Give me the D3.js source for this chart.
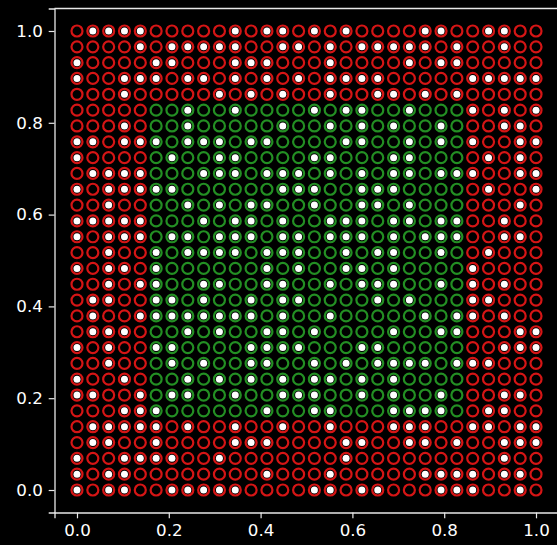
<!DOCTYPE html>
<html>
<head>
<meta charset="utf-8">
<script src="https://cdn.jsdelivr.net/npm/d3@7"></script>
<style>
  html, body { margin: 0; padding: 0; background: #000; }
  #container { width: 557px; height: 545px; overflow: hidden; }
</style>
</head>
<body>
<div id="container"></div>
<script>
// grid coordinates (same on both axes)
var gridValues = [0, 0.0345, 0.0690, 0.1034, 0.1379, 0.1724, 0.2069, 0.2414, 0.2759, 0.3103,
  0.3448, 0.3793, 0.4138, 0.4483, 0.4828, 0.5172, 0.5517, 0.5862, 0.6207, 0.6552,
  0.6897, 0.7241, 0.7586, 0.7931, 0.8276, 0.8621, 0.8966, 0.9310, 0.9655, 1];

// points inside this square are class "inner" (green), the rest "outer" (red)
var innerSquare = [0.1667, 0.8333];
var categories = ["outer", "inner"];

// marked points (white dot), one string per row, top row (y = 1) first, left to right
var markedRows = [
  "011110000010110101000011001100",
  "000010111110011010111110100100",
  "100001100011100010000101100000",
  "100111011010101011110000011111",
  "000100000101010010011010100000",
  "000000010010000101100100010101",
  "000100010000010010101001000110",
  "110111011101100001100101010011",
  "100000100110000110001100001010",
  "011110001110111010101101110011",
  "101111100000011100111000001001",
  "001000010101100100110100000010",
  "111110001011010011101101100100",
  "101110110111011011101011100110",
  "001001011110111001011001001000",
  "101101000000101001101000010000",
  "001011001100110010111001010100",
  "011001101001011000010100011000",
  "010011111111010010000010110100",
  "011100010100110100001001100011",
  "101001100001111000110000000111",
  "001000101001100101011110111000",
  "100100010101010110101000000000",
  "110010110010011100101001000110",
  "000111000000100110001111001100",
  "011111010010010010001110011011",
  "011001000011100001100110100111",
  "100111100100000001000000000100",
  "101100000000100010000011110110",
  "101100111110000110110001110010"
];

var xTicks = [0, 0.2, 0.4, 0.6, 0.8, 1.0];
var yTicks = [0, 0.2, 0.4, 0.6, 0.8, 1.0];

var OPTIONS = {
  width: 557,
  height: 545,
  left: 54.5,
  right: 558.5,
  top: 8.5,
  bottom: 512.5,
  ringRadius: 5.5,
  ringWidth: 2.2,
  dotRadius: 3.5,
  axisColor: "#e8e8e8",
  fontSize: 16.7,
  tickSize: 5.8,
  tickPad: 5.8,
  colors: { outer: "#d51515", inner: "#238f23" }
};

var points = [];
markedRows.forEach(function(row, r){
  var yv = gridValues[gridValues.length - 1 - r];
  for (var c = 0; c < row.length; c++) {
    var xv = gridValues[c];
    var inside = xv >= innerSquare[0] && xv <= innerSquare[1] && yv >= innerSquare[0] && yv <= innerSquare[1];
    points.push({ x: xv, y: yv, cls: inside ? categories[1] : categories[0], marked: row[c] === "1" });
  }
});

var svg = d3.select("#container")
  .append("svg")
    .attr("width", OPTIONS.width)
    .attr("height", OPTIONS.height);

svg.append("rect")
  .attr("width", OPTIONS.width)
  .attr("height", OPTIONS.height)
  .attr("fill", "#000");

var x = d3.scaleLinear().domain([-0.049, 1.049]).range([OPTIONS.left, OPTIONS.right]);
var y = d3.scaleLinear().domain([-0.049, 1.049]).range([OPTIONS.bottom, OPTIONS.top]);

// rings
svg.selectAll(".ring")
    .data(points)
  .enter().append("circle")
    .attr("class", "ring")
    .attr("cx", function(d){ return x(d.x); })
    .attr("cy", function(d){ return y(d.y); })
    .attr("r", OPTIONS.ringRadius)
    .attr("fill", "none")
    .attr("stroke", function(d){ return OPTIONS.colors[d.cls]; })
    .attr("stroke-width", OPTIONS.ringWidth);

// white dots on marked points
svg.selectAll(".dot")
    .data(points.filter(function(d){ return d.marked; }))
  .enter().append("circle")
    .attr("class", "dot")
    .attr("cx", function(d){ return x(d.x); })
    .attr("cy", function(d){ return y(d.y); })
    .attr("r", OPTIONS.dotRadius)
    .attr("fill", "#fff");

// top spine
svg.append("line")
  .attr("x1", OPTIONS.left).attr("x2", OPTIONS.right)
  .attr("y1", OPTIONS.top).attr("y2", OPTIONS.top)
  .attr("stroke", OPTIONS.axisColor).attr("stroke-width", 1.3);

var xAxis = d3.axisBottom(x).tickValues(xTicks).tickFormat(d3.format(".1f"))
  .tickSize(OPTIONS.tickSize).tickPadding(OPTIONS.tickPad);
var yAxis = d3.axisLeft(y).tickValues(yTicks).tickFormat(d3.format(".1f"))
  .tickSize(OPTIONS.tickSize).tickPadding(OPTIONS.tickPad);

function styleAxis(g){
  g.attr("font-size", OPTIONS.fontSize).attr("font-family", "'DejaVu Sans', sans-serif");
  g.select(".domain").attr("stroke", OPTIONS.axisColor).attr("stroke-width", 1.3);
  g.selectAll(".tick line").attr("stroke", OPTIONS.axisColor).attr("stroke-width", 1.2);
  g.selectAll(".tick text")
    .attr("fill", "#fff")
    .style("font-size", OPTIONS.fontSize + "px")
    .style("font-family", "'DejaVu Sans', sans-serif");
}

svg.append("g")
  .attr("class", "x axis")
  .attr("transform", "translate(0," + OPTIONS.bottom + ")")
  .call(xAxis)
  .call(styleAxis);

svg.append("g")
  .attr("class", "y axis")
  .attr("transform", "translate(" + OPTIONS.left + ",0)")
  .call(yAxis)
  .call(styleAxis);
</script>
</body>
</html>
